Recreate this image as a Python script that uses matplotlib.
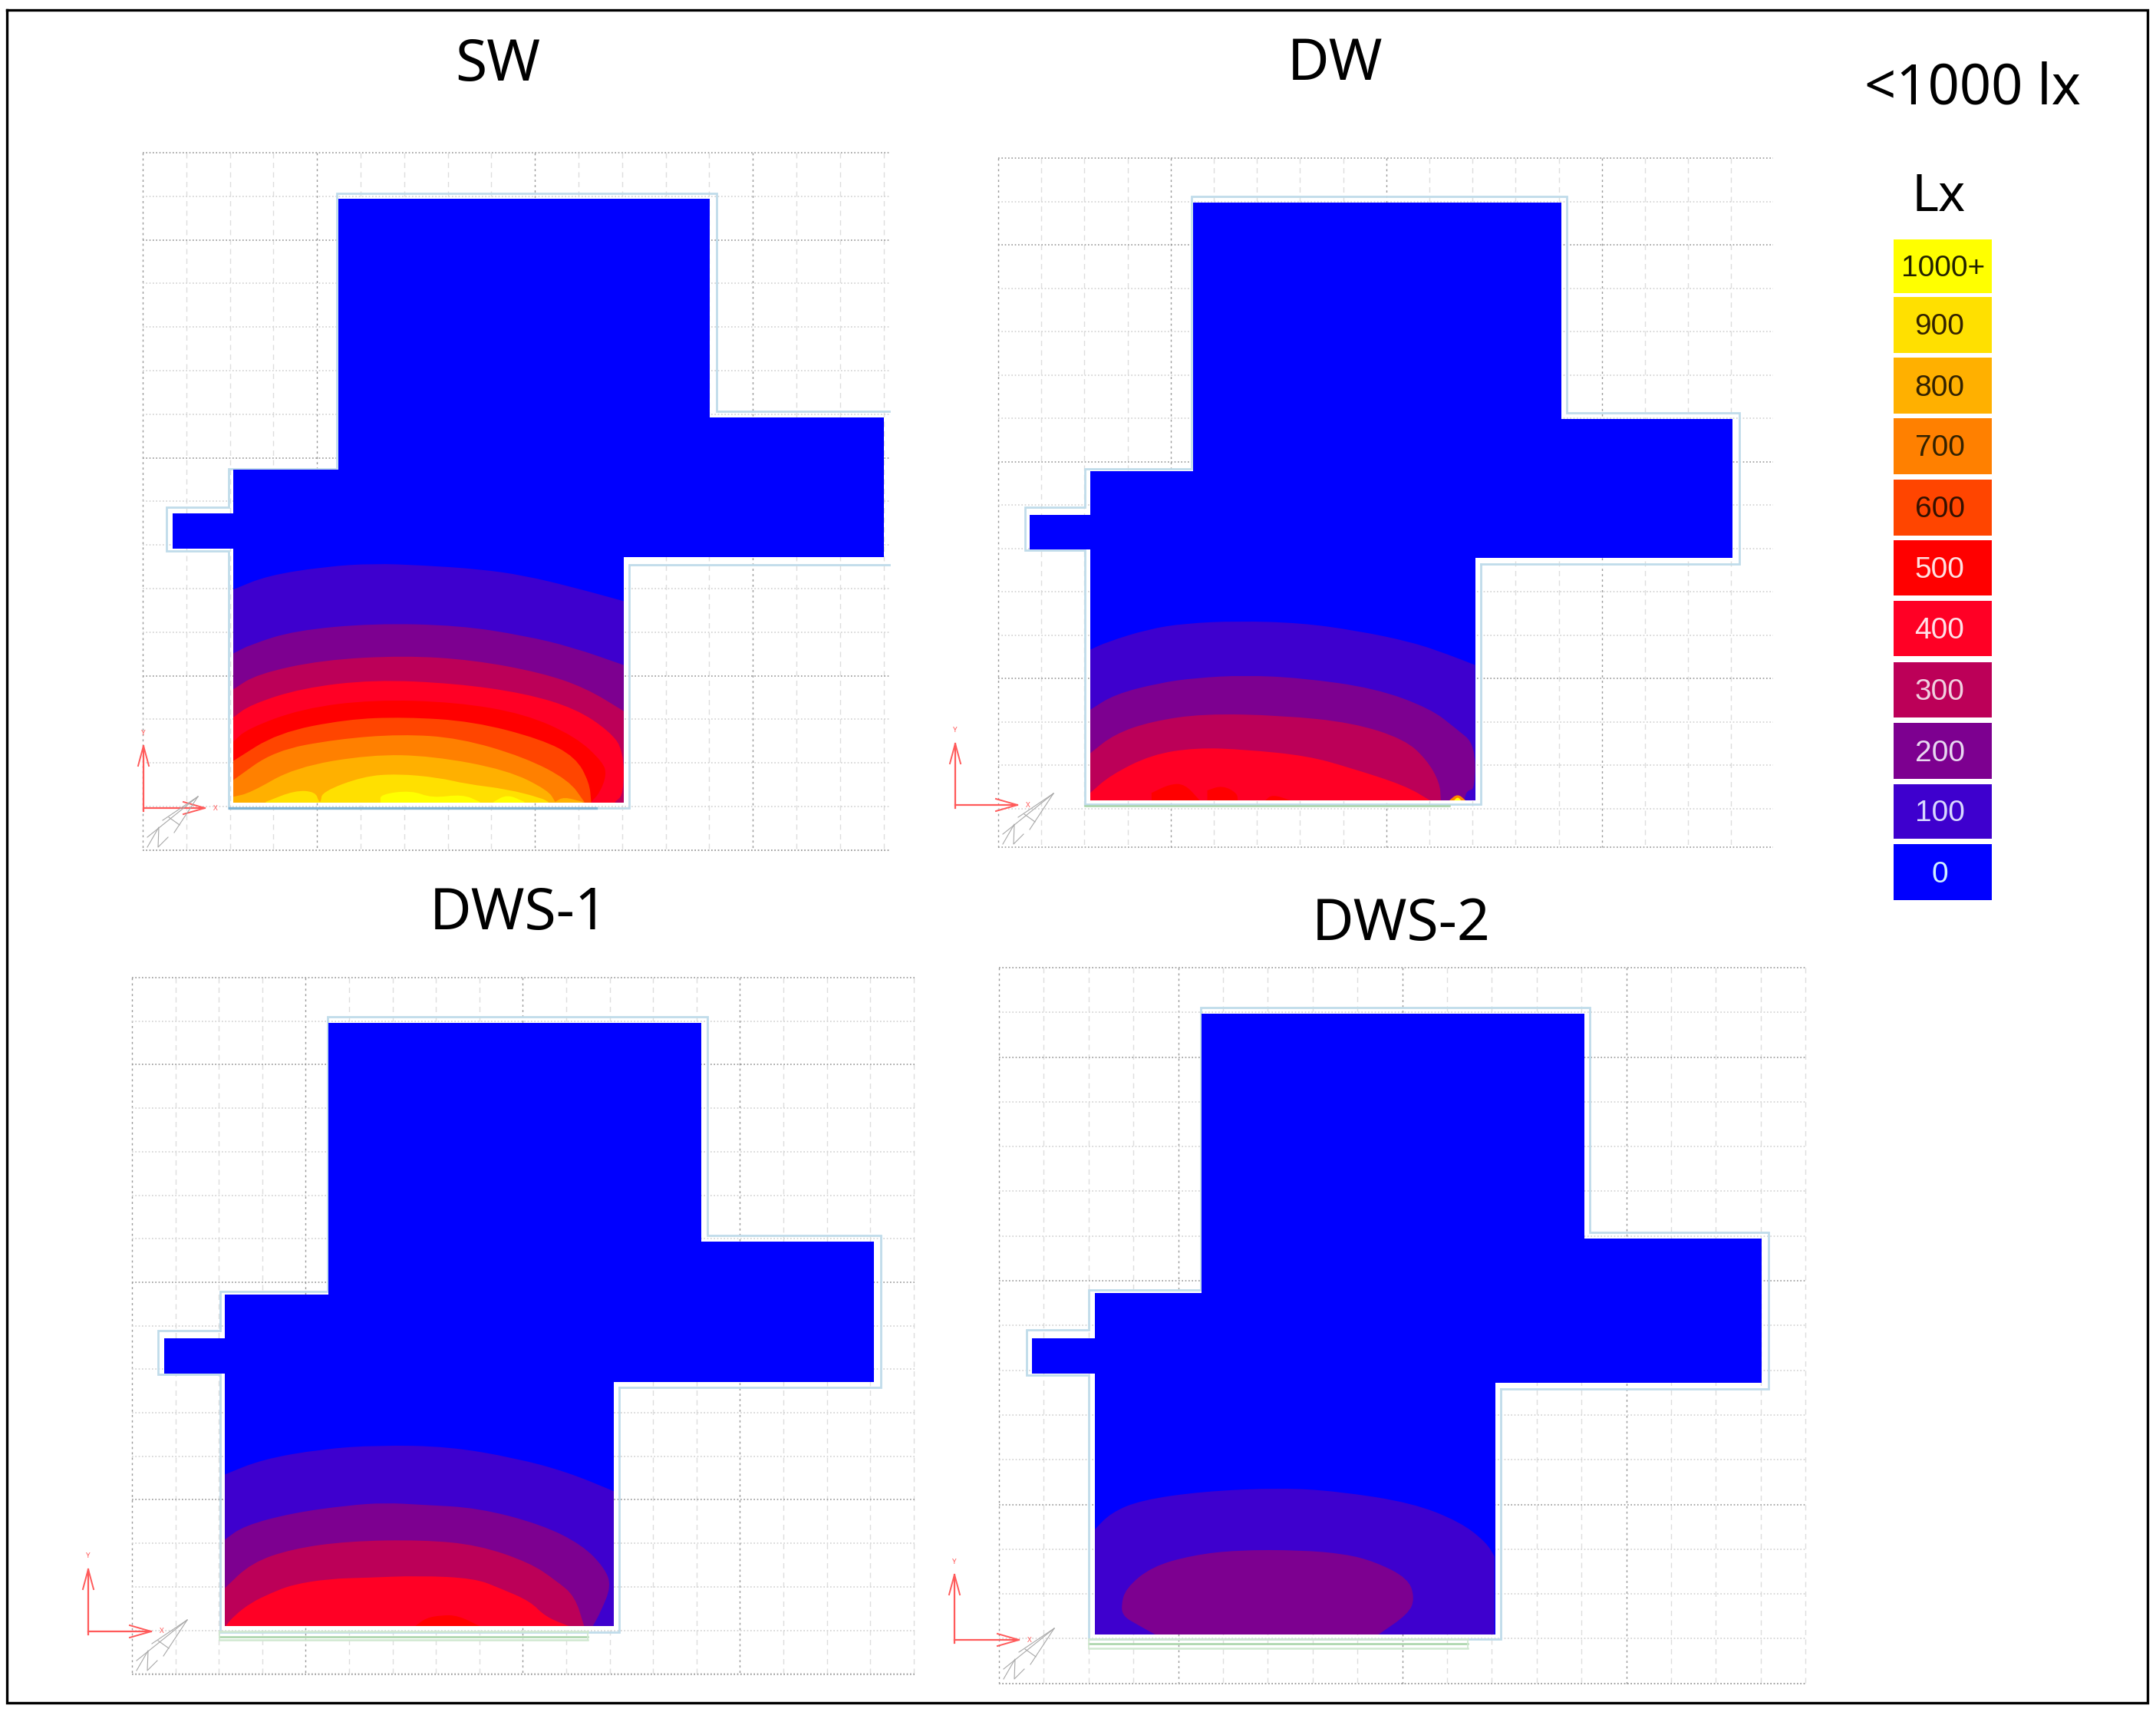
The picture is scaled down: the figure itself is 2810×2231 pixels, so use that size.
import matplotlib
matplotlib.use('Agg')
from matplotlib import pyplot as plt
from matplotlib.patches import Polygon, Rectangle, PathPatch
from matplotlib.path import Path

plt.rcParams['font.family'] = ['Noto Sans', 'DejaVu Sans']

#Escala de la leyenda
levels = ['1000+', '900', '800', '700', '600', '500', '400', '300', '200', '100', '0']
level_colors = ['#FFFF00', '#FFE000', '#FFB000', '#FF8000', '#FF4500', '#FF0000',
                '#FF0025', '#BC0058', '#7D0090', '#3E00CE', '#0000FF']
level_tops = [312, 387, 466, 545, 625, 704, 783, 863, 942, 1022, 1100]
level_bottoms = [382, 460, 539, 618, 698, 776, 855, 935, 1015, 1093, 1173]
level_text = ['#222200', '#332200', '#332200', '#332200', '#331100', '#FFE0E0',
              '#FFE0E8', '#F0D0E0', '#E8D8F0', '#D8D8FF', '#D0F0FF']
color_of = dict(zip(levels, level_colors))

titles = ['SW', 'DW', 'DWS-1', 'DWS-2']
title_x = [649, 1740, 676, 1826]
title_y = [85, 85, 1191, 1205]

#Planta: zona iluminada (x, y en pixeles)
sw_room_x = [441, 925, 925, 1152, 1152, 813, 813, 304, 304, 225, 225, 304, 304, 441]
sw_room_y = [259, 259, 544, 544, 726, 726, 1046, 1046, 715, 715, 669, 669, 612, 612]
dw_room_x = [1555, 2035, 2035, 2258, 2258, 1923, 1923, 1421, 1421, 1342, 1342, 1421, 1421, 1555]
dw_room_y = [264, 264, 546, 546, 727, 727, 1043, 1043, 716, 716, 671, 671, 614, 614]
d1_room_x = [428, 914, 914, 1139, 1139, 800, 800, 293, 293, 214, 214, 293, 293, 428]
d1_room_y = [1333, 1333, 1618, 1618, 1801, 1801, 2119, 2119, 1790, 1790, 1744, 1744, 1687, 1687]
d2_room_x = [1566, 2065, 2065, 2296, 2296, 1949, 1949, 1427, 1427, 1345, 1345, 1427, 1427, 1566]
d2_room_y = [1321, 1321, 1614, 1614, 1802, 1802, 2130, 2130, 1790, 1790, 1744, 1744, 1685, 1685]

#Muro exterior
sw_wall_x = [1159, 934, 934, 439, 439, 298, 298, 217, 217, 298, 298, 299, 820, 820, 1159]
sw_wall_y = [536, 536, 252, 252, 611, 611, 661, 661, 718, 718, 1053, 1053, 1053, 736, 736]
dw_wall_x = [1930, 2267, 2267, 2042, 2042, 1553, 1553, 1414, 1414, 1336, 1336, 1414, 1414, 1930, 1930]
dw_wall_y = [735, 735, 538, 538, 256, 256, 611, 611, 661, 661, 717, 717, 1048, 1048, 735]
d1_wall_x = [807, 1148, 1148, 922, 922, 427, 427, 287, 287, 206, 206, 287, 287, 807, 807]
d1_wall_y = [1808, 1808, 1610, 1610, 1325, 1325, 1683, 1683, 1734, 1734, 1791, 1791, 2127, 2127, 1808]
d2_wall_x = [1956, 2305, 2305, 2072, 2072, 1565, 1565, 1419, 1419, 1338, 1338, 1419, 1419, 1956, 1956]
d2_wall_y = [1810, 1810, 1606, 1606, 1313, 1313, 1681, 1681, 1733, 1733, 1792, 1792, 2136, 2136, 1810]

#Rejilla: x0, x1, y0, y1, paso x, paso y
sw_grid = (186, 1159, 199, 1108, 56.8, 56.8)
dw_grid = (1301, 2311, 206, 1104, 56.2, 56.5)
d1_grid = (172, 1193, 1274, 2182, 56.6, 56.7)
d2_grid = (1302, 2354, 1261, 2194, 58.4, 58.3)

#Origen de ejes (x, y, punta y, punta x)
sw_axes = (187, 1053, 972, 267)
dw_axes = (1245, 1049, 969, 1326)
d1_axes = (115, 2126, 2045, 197)
d2_axes = (1244, 2137, 2052, 1328)

#Lineas verdes de la ventana: x0, x1, lista de y
dw_green = (1414, 1889, [1050])
d1_green = (286, 766, [2126, 2133, 2137])
d2_green = (1419, 1913, [2136, 2142, 2148])

sw_crop = (170, 700, 2.24, 3.0)
sw_100 = [(300,205),(400,150),(570,115),(710,103),(850,110),(1020,125),(1150,150),(1290,195),(1440,250)]
sw_200 = [(300,455),(350,420),(480,365),(710,337),(960,345),(1150,385),(1290,430),(1440,500)]
sw_300 = [(300,595),(370,535),(560,480),(800,463),(1000,480),(1200,530),(1330,590),(1440,680)]
sw_400 = [(300,705),(350,655),(500,590),(710,557),(950,572),(1150,610),(1300,670),(1400,760),(1440,835),(1440,1005),(1415,1035)]
sw_500 = [(300,800),(340,750),(500,670),(710,635),(950,645),(1150,690),(1300,780),(1380,880),(1390,930),(1370,1000),(1345,1035)]
sw_600 = [(300,875),(430,765),(630,712),(800,703),(1000,720),(1200,790),(1300,860),(1340,960),(1345,1035)]
sw_700 = [(300,950),(420,835),(600,790),(790,770),(960,785),(1150,860),(1280,950),(1325,1035)]
sw_800 = [(300,1015),(350,1000),(480,900),(700,850),(880,855),(1100,910),(1220,990),(1240,1035)]
sw_800b = [(1240,1035),(1265,1015),(1320,1035)]
sw_900 = [(395,1035),(480,990),(540,995),(550,1035),(556,1035),(560,995),(680,935),(780,925),(900,940),(980,965),(1100,985),(1200,1020),(1220,1035)]
sw_1000 = [(730,1035),(730,1005),(820,990),(880,1020),(970,1005),(1020,1035)]
sw_1000b = [(1060,1035),(1100,1005),(1150,1035)]

dw_crop = (1210, 780, 2.063, 3.0)
dw_100 = [(435,200),(480,170),(590,120),(690,97),(830,88),(1000,95),(1150,125),(1300,170),(1400,220),(1470,260)]
dw_200 = [(435,435),(500,375),(620,330),(720,310),(850,300),(1000,310),(1200,350),(1350,430),(1420,510),(1470,570),(1470,745),(1448,750),(1440,790)]
dw_300 = [(435,605),(500,530),(600,480),(740,450),(950,457),(1140,485),(1280,550),(1340,630),(1375,720),(1378,790)]
dw_400 = [(435,760),(490,690),(600,610),(720,583),(850,590),(1020,615),(1130,660),(1280,730),(1350,790)]
dw_500 = [(600,760),(650,725),(690,725),(730,790)]
dw_500b = [(750,750),(790,730),(830,760),(832,790)]
dw_500c = [(905,790),(925,765),(975,790)]
dw_700 = [(1400,790),(1423,762),(1445,790)]
dw_1000 = [(1413,790),(1423,775),(1433,790)]

d1_crop = (90, 1850, 2.063, 3.0)
d1_100 = [(418,215),(520,155),(680,115),(830,100),(1020,105),(1200,150),(1340,205),(1465,280)]
d1_200 = [(418,470),(470,415),(600,365),(750,335),(850,325),(950,333),(1100,345),(1270,410),(1380,490),(1440,580),(1458,650),(1430,750),(1408,808)]
d1_300 = [(418,660),(490,560),(600,505),(750,475),(950,470),(1100,490),(1240,560),(1310,630),(1360,690),(1385,808)]
d1_400 = [(420,808),(445,765),(490,715),(540,680),(600,645),(700,622),(800,618),(940,610),(1090,620),(1160,660),(1240,710),(1280,770),(1345,808)]
d1_500 = [(930,808),(960,775),(1000,765),(1045,765),(1105,808)]

d2_crop = (1210, 1900, 2.063, 3.0)
d2_100 = [(447,280),(490,215),(570,165),(740,130),(950,117),(1100,130),(1300,175),(1430,250),(1500,330),(1522,385)]
d2_200 = [(610,690),(560,650),(525,620),(518,580),(530,510),(600,425),(710,380),(830,360),(1000,360),(1120,375),(1200,405),(1290,470),(1308,550),(1290,610),(1210,690)]

sw_bands = [('100', sw_100), ('200', sw_200), ('300', sw_300), ('400', sw_400), ('500', sw_500),
            ('600', sw_600), ('700', sw_700), ('800', sw_800), ('800', sw_800b), ('900', sw_900),
            ('1000+', sw_1000), ('1000+', sw_1000b)]
dw_bands = [('100', dw_100), ('200', dw_200), ('300', dw_300), ('400', dw_400), ('500', dw_500),
            ('500', dw_500b), ('500', dw_500c), ('700', dw_700), ('1000+', dw_1000)]
d1_bands = [('100', d1_100), ('200', d1_200), ('300', d1_300), ('400', d1_400), ('500', d1_500)]
d2_bands = [('100', d2_100), ('200', d2_200)]

fig = plt.figure(figsize=(28.10, 22.31), dpi=100)
ax = fig.add_axes([0, 0, 1, 1])
ax.set_xlim(0, 2810)
ax.set_ylim(2231, 0)
ax.axis('off')


def draw_grid(grid):
    x0, x1, y0, y1, dx, dy = grid
    i = 0
    x = x0
    while x <= x1 + 1:
        major = i % 5 == 4 or i == 0
        ax.plot([x, x], [y0, y1], color='#999999' if major else '#dedede', lw=1.0,
                ls=(0, (2, 3)) if major else (0, (5, 4)), zorder=1)
        x += dx
        i += 1
    i = 0
    y = y0
    while y <= y1 + 1:
        major = i % 5 == 2 or i == 0
        ax.plot([x0, x1], [y, y], color='#999999' if major else '#d2d2d2', lw=1.2,
                ls=(0, (1, 1.6)), zorder=1)
        y += dy
        i += 1
    ax.plot([x0, x1], [y1, y1], color='#999999', lw=1.2, ls=(0, (1, 1.6)), zorder=1)


def band_path(xs, ys, floor):
    #curva suave que usa las lecturas como puntos de control
    verts = [(xs[0], ys[0])]
    codes = [Path.MOVETO]
    n = len(xs)
    for k in range(1, n - 1):
        if k == 1:
            verts.append(((xs[0] + xs[1]) / 2, (ys[0] + ys[1]) / 2))
            codes.append(Path.LINETO)
        end = ((xs[k] + xs[k + 1]) / 2, (ys[k] + ys[k + 1]) / 2)
        verts += [(xs[k], ys[k]), end]
        codes += [Path.CURVE3, Path.CURVE3]
    verts += [(xs[-1], ys[-1]), (xs[-1], floor), (xs[0], floor), (xs[0], ys[0])]
    codes += [Path.LINETO, Path.LINETO, Path.LINETO, Path.CLOSEPOLY]
    return Path(verts, codes)


def draw_room(room_x, room_y, wall_x, wall_y, crop, bands):
    ax.plot(wall_x, wall_y, color='#C0DCEA', lw=2.0, zorder=2, solid_joinstyle='miter')
    clip = Polygon(list(zip(room_x, room_y)), closed=True, transform=ax.transData)
    ax.fill(room_x, room_y, color='#0000FF', lw=0, zorder=3)
    x0, y0, sx, sy = crop
    floor = max(room_y) + 40
    for level, pts in bands:
        xs = [x0 + p[0] / sx for p in pts]
        ys = [y0 + p[1] / sy for p in pts]
        patch = PathPatch(band_path(xs, ys, floor), facecolor=color_of[level], edgecolor='none', zorder=4)
        ax.add_patch(patch)
        patch.set_clip_path(clip)


def draw_axes_marks(mark, grid_left, floor_y):
    ox, oy, ty, tx = mark
    red = '#FF5A5A'
    ax.plot([ox, ox], [oy + 4, ty], color=red, lw=1.6, zorder=5)
    ax.plot([ox, tx], [oy, oy], color=red, lw=1.6, zorder=5)
    ax.plot([ox - 7, ox, ox + 7], [ty + 26, ty, ty + 26], color=red, lw=1.4, zorder=5)
    ax.plot([tx - 28, tx, tx - 28], [oy - 8, oy, oy + 8], color=red, lw=1.4, zorder=5)
    ax.text(ox, ty - 17, 'Y', color=red, fontsize=7, ha='center', va='center', zorder=5)
    ax.text(tx + 14, oy, 'X', color=red, fontsize=7, ha='center', va='center', zorder=5)
    #Flecha norte
    nx = grid_left + 72
    ny = floor_y - 15
    gray = '#a8a8a8'
    ax.plot([nx, nx - 46], [ny, ny + 31], color=gray, lw=0.8, zorder=5)
    ax.plot([nx, nx - 66], [ny, ny + 53], color=gray, lw=0.8, zorder=5)
    ax.plot([nx, nx - 31], [ny, ny + 47], color=gray, lw=0.8, zorder=5)
    ax.plot([nx - 38, nx - 24], [ny + 27, ny + 37], color=gray, lw=0.8, zorder=5)
    ax.plot([nx - 66, nx - 51, nx - 52, nx - 39], [ny + 66, ny + 40, ny + 66, ny + 53],
            color=gray, lw=0.8, zorder=5)


def draw_green(green):
    x0, x1, ys = green
    for k, y in enumerate(ys):
        ax.plot([x0, x1], [y, y], color='#A8D4A8' if k == 1 or len(ys) == 1 else '#D0E8D0',
                lw=1.8, zorder=3)
    if len(ys) > 1:
        ax.plot([x0, x0], [ys[0], ys[-1]], color='#D0E8D0', lw=1.2, zorder=3)
        ax.plot([x1, x1], [ys[0], ys[-1]], color='#D0E8D0', lw=1.2, zorder=3)


#-------------------------Paneles
draw_grid(sw_grid)
draw_room(sw_room_x, sw_room_y, sw_wall_x, sw_wall_y, sw_crop, sw_bands)
ax.plot([299, 777], [1053, 1053], color='#7FB2D2', lw=2.4, zorder=3)
draw_axes_marks(sw_axes, sw_grid[0], 1053)

draw_grid(dw_grid)
draw_green(dw_green)
draw_room(dw_room_x, dw_room_y, dw_wall_x, dw_wall_y, dw_crop, dw_bands)
draw_axes_marks(dw_axes, dw_grid[0], 1049)

draw_grid(d1_grid)
draw_green(d1_green)
draw_room(d1_room_x, d1_room_y, d1_wall_x, d1_wall_y, d1_crop, d1_bands)
draw_axes_marks(d1_axes, d1_grid[0], 2126)

draw_grid(d2_grid)
draw_green(d2_green)
draw_room(d2_room_x, d2_room_y, d2_wall_x, d2_wall_y, d2_crop, d2_bands)
draw_axes_marks(d2_axes, d2_grid[0], 2137)

#-------------------------Leyenda
for name, color, top, bottom, tc in zip(levels, level_colors, level_tops, level_bottoms, level_text):
    ax.add_patch(Rectangle((2468, top), 128, bottom - top, facecolor=color, edgecolor='none', zorder=3))
    ax.text(2528 if name != '1000+' else 2533, (top + bottom) / 2 + 3, name, color=tc, fontsize=28,
            family=['Liberation Sans', 'DejaVu Sans'], ha='center', va='center', zorder=4)

for name, x, y in zip(titles, title_x, title_y):
    ax.text(x, y, name, fontsize=54, ha='center', va='center', color='black')
ax.text(2571, 117, '<1000 lx', fontsize=52, ha='center', va='center', color='black')
ax.text(2527, 257, 'Lx', fontsize=48, ha='center', va='center', color='black')

#Marco exterior
ax.plot([8.5, 2798.5, 2798.5, 8.5, 8.5], [12.5, 12.5, 2219, 2219, 12.5], color='black', lw=2.4, zorder=6,
        solid_joinstyle='miter')

fig.savefig('out.png', dpi=100)
